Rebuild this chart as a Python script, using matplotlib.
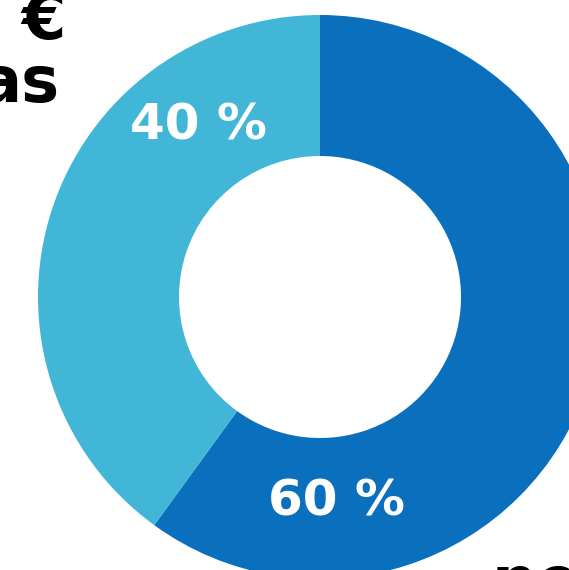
import matplotlib.pyplot as plt

labels = ['60 %', '40 %']
values = [60, 40]
colors = ['#0a70be', '#42b6d6']

W, H = 569, 570
cx, cy, R = 320, 297, 282

fig = plt.figure(figsize=(W / 100, H / 100), dpi=100)
ax = fig.add_axes([0, 0, 1, 1])
ax.pie(values, colors=colors, startangle=90, counterclock=False,
       radius=1, wedgeprops=dict(width=0.5, linewidth=0))
ax.set_xlim(-cx / R, (W - cx) / R)
ax.set_ylim(-(H - cy) / R, cy / R)
ax.set_aspect('auto')
ax.axis('off')

def px(x, y):
    return x / W, 1 - y / H

fig.text(*px(336, 501), labels[0], color='white', fontsize=36, fontweight='bold',
         ha='center', va='center', family='DejaVu Sans')
fig.text(*px(199, 125), labels[1], color='white', fontsize=36, fontweight='bold',
         ha='center', va='center', family='DejaVu Sans')

# titles around the chart, cut off by the edges as in the original
fig.text(*px(66, 21), '€', color='black', fontsize=46, fontweight='bold',
         ha='right', va='center', family='DejaVu Sans')
fig.text(*px(59, 84), 'as', color='black', fontsize=46, fontweight='bold',
         ha='right', va='center', family='DejaVu Sans')
fig.text(*px(492, 602), 'ne', color='black', fontsize=46, fontweight='bold',
         ha='left', va='baseline', family='DejaVu Sans')

fig.savefig('out.png', dpi=100)
